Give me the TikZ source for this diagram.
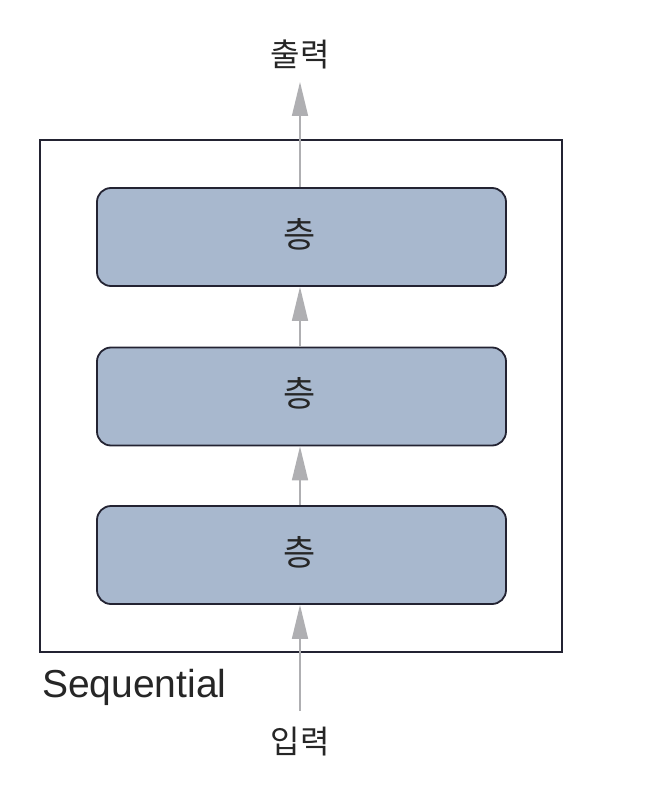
\documentclass[tikz,border=0pt]{standalone}
\usepackage{fontspec}
\setmainfont{Liberation Sans}
\newfontfamily\kofont{Noto Sans CJK KR}
\usetikzlibrary{arrows.meta}
\definecolor{layerfill}{RGB}{168,184,206}
\definecolor{arrowgray}{RGB}{175,175,178}
\definecolor{edgecol}{RGB}{35,35,50}
\tikzset{
  layerbox/.style={draw=edgecol, line width=1.8pt, fill=layerfill, rounded corners=14pt},
  flow/.style={draw=arrowgray, line width=1.6pt, -{Triangle[width=16pt,length=34pt]}},
  kolabel/.style={font=\kofont\fontsize{32}{36}\selectfont, text=black!85, inner sep=0pt},
  layerlabel/.style={font=\kofont\fontsize{35}{40}\selectfont, text=black!85, inner sep=0pt},
}
\begin{document}
\begin{tikzpicture}[x=1pt,y=-1pt]
\useasboundingbox (0,0) rectangle (648,791);
\draw[draw=edgecol, line width=1.5pt] (40,140) rectangle (562,652);
\node[layerbox, minimum width=409pt, minimum height=98pt] (l1) at (301.5,237) {};
\node[layerbox, minimum width=409pt, minimum height=98pt] (l2) at (301.5,396.5) {};
\node[layerbox, minimum width=409pt, minimum height=98pt] (l3) at (301.5,555) {};
\node[layerlabel] (t1) at (300,234) {층};
\node[layerlabel] (t2) at (300,393) {층};
\node[layerlabel] (t3) at (300,552) {층};
\node[kolabel] (out) at (300,54) {출력};
\node[kolabel] (in) at (300,742) {입력};
\coordinate (inS) at (300,711);
\coordinate (outE) at (300,82);
\node[anchor=west, inner sep=0pt, font=\fontsize{39}{44}\selectfont, text=black!85] (seq) at (42,687) {Sequential};
\draw[flow] (inS) -- (l3.south -| inS);
\draw[flow] (l3.north -| inS) -- (l2.south -| inS);
\draw[flow] (l2.north -| inS) -- (l1.south -| inS);
\draw[flow] (l1.north -| inS) -- (outE);
\end{tikzpicture}
\end{document}
